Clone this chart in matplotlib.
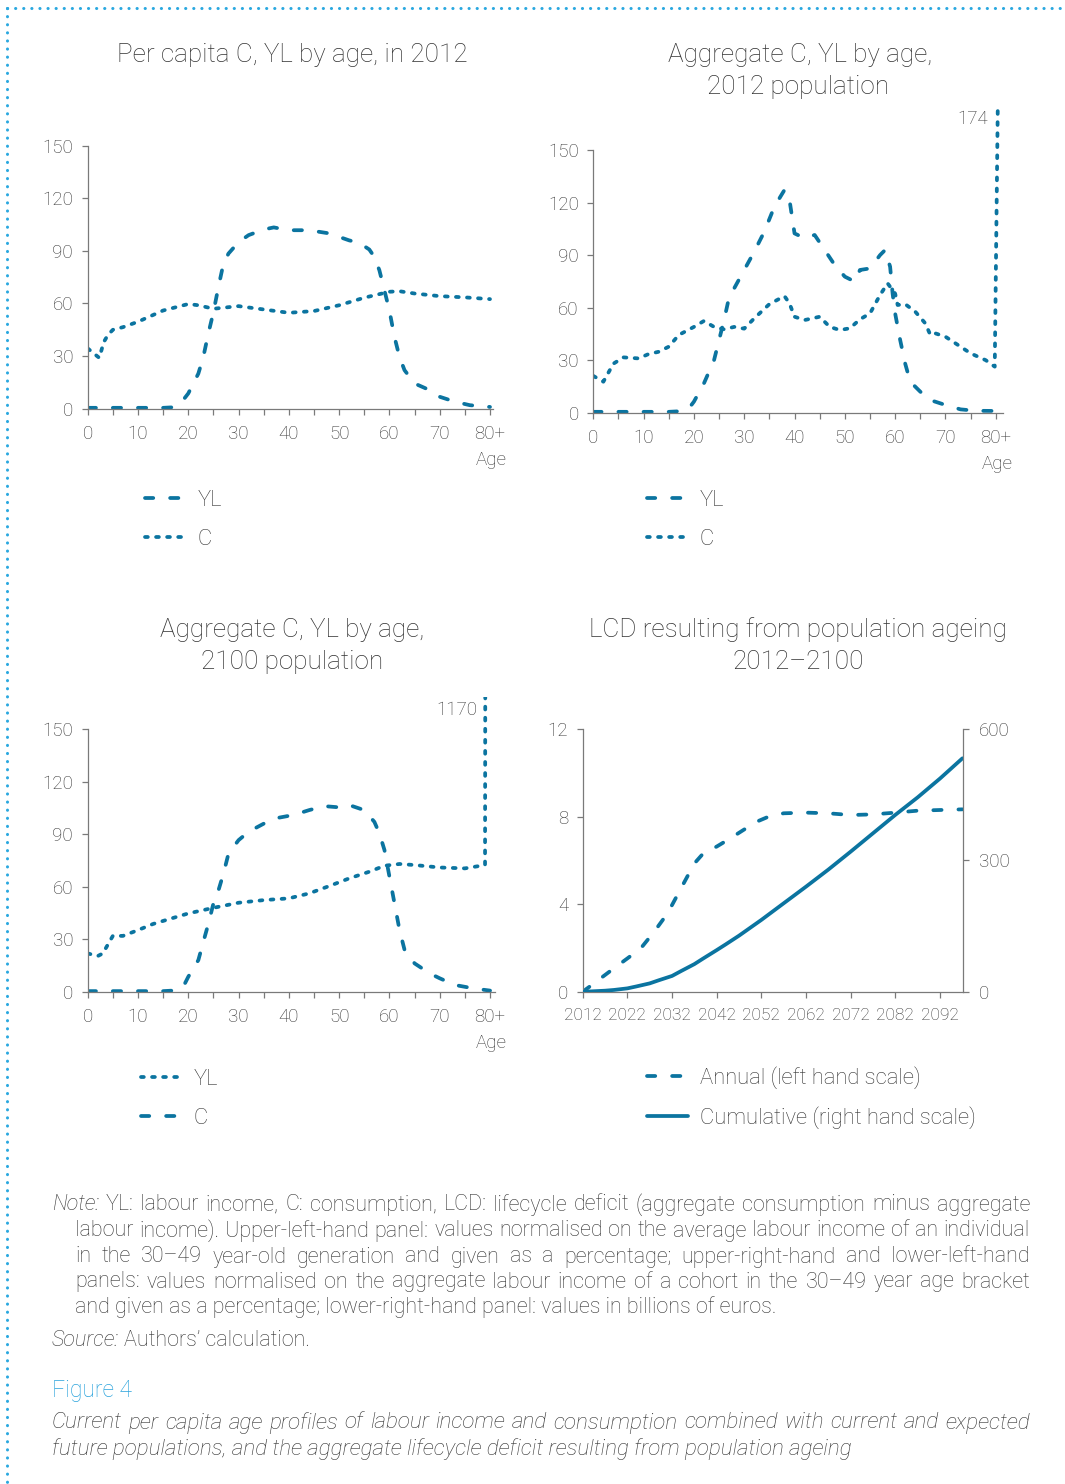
import matplotlib
matplotlib.use('Agg')
import matplotlib.pyplot as plt
from matplotlib.lines import Line2D

W, H = 1065, 1484
BLUE = '#0b74a0'
TXT = '#333333'
AXC = '#7a7a7a'
FRAME = '#2aa8e0'

plt.rcParams['font.family'] = ['Roboto', 'DejaVu Sans']
plt.rcParams['font.weight'] = 'light'

# --- panel 1: per capita 2012 ---
p1_age_yl = [0, 5, 10, 15, 17, 18, 19, 20, 22, 23, 24, 25, 26, 27, 28, 30, 32, 35, 37, 40, 44, 48,
             52, 54, 56, 57, 58, 59, 60, 61, 62, 63, 65, 68, 70, 73, 76, 80]
p1_yl = [0.5, 0.5, 0.5, 0.5, 0.8, 3, 5, 8.7, 20, 29.6, 43, 55, 69.5, 82.8, 88.5, 95, 99, 102.2, 103.4,
         101.8, 101.8, 100, 96, 94.6, 90.8, 86.6, 79, 67.6, 56, 41, 29.6, 22, 14.4, 10.6, 6.8, 4, 2, 1]
p1_age_c = [0, 1, 2.3, 3.2, 4, 5, 7, 10, 15, 20, 22, 25, 30, 35, 40, 45, 50, 55, 60, 62, 65, 70, 75, 80]
p1_c = [34.4, 32, 29, 38, 42, 45, 46.5, 49.6, 56, 59.7, 59, 57, 58.5, 56.6, 54.7, 55.7, 59, 63.3,
        66.7, 67, 65.7, 64.2, 63.5, 62.5]

# --- panel 2: aggregate, 2012 population ---
p2_age_yl = [0, 5, 10, 15, 17, 19, 20, 22, 24, 25, 26, 27, 28, 30, 32, 34, 36, 38, 39, 39.5, 40, 42,
             44, 46, 48, 50, 52, 53, 55, 57, 58, 59, 59.5, 60, 61, 62, 63, 65, 67, 70, 73, 76, 80]
p2_yl = [0.5, 0.5, 0.5, 0.5, 0.8, 2.5, 6.3, 16.8, 30, 41.5, 53, 66, 71, 81.5, 92, 103.4, 117.7, 127.2,
         121.5, 112, 102.4, 99.6, 101.5, 92.9, 84.3, 77.7, 74.8, 81.5, 82.4, 90, 92.9, 83.4, 68, 56.7,
         41.5, 28, 17.7, 12, 7.2, 4.4, 1.9, 1.1, 1]
p2_age_c = [0, 2, 4, 6, 9, 11, 13, 15, 17, 20, 22, 24, 26, 28, 30, 32, 35, 38, 39, 40, 42, 45, 47, 49,
            51, 53, 55, 57, 58.5, 60, 60.5, 62, 64, 66, 67, 68, 70, 72, 75, 78, 79.8, 80.4]
p2_c = [21, 17.7, 28, 31.6, 31, 33.5, 34.8, 37.7, 44.4, 49, 52.4, 49, 47.6, 49, 48, 53.9, 62, 66.6,
        62.4, 54.8, 52.9, 54.8, 49, 47.2, 48.2, 53.3, 56.7, 67.2, 73.9, 68, 61.5, 62, 57.7, 51, 44.4,
        45.3, 43.4, 39.6, 33.9, 30, 26.3, 174]

# --- panel 3: aggregate, 2100 population ---
p3_age_yl = [0, 5, 10, 15, 17, 19, 20, 22, 23, 24, 25, 26, 27, 28, 30, 32, 35, 38, 41, 44, 47, 50,
             52, 55, 57, 58, 59, 60, 61, 62, 63, 65, 68, 70, 73, 77, 80]
p3_yl = [0.5, 0.5, 0.5, 0.5, 0.8, 3, 8.7, 18.2, 28.7, 39, 50.5, 58, 67.6, 79, 86.6, 91.4, 96, 99.4,
         101, 103.7, 106, 105.3, 106.6, 103.7, 97, 90.4, 81, 65.7, 50.5, 35.3, 24, 16.3, 10.6, 7.8,
         4, 1.9, 0.8]
p3_age_c = [0, 2, 3, 5, 7, 10, 13, 16, 20, 25, 30, 35, 40, 44, 48, 52, 56, 59, 62, 65, 70, 75, 79, 79.5]
p3_c = [22, 20.5, 22, 32, 32, 35.3, 38.8, 41.4, 44.8, 48, 50.9, 52.4, 53.4, 56.2, 60.4, 64.8, 68.6,
        72, 73, 72.4, 71, 70.5, 72.4, 1170]

# --- panel 4: LCD ---
p4_years_a = [2012, 2014, 2016, 2019, 2022, 2025, 2028, 2031, 2033, 2035, 2037, 2039, 2042, 2045,
              2048, 2051, 2054, 2057, 2062, 2067, 2072, 2077, 2082, 2087, 2092, 2097]
p4_annual = [0, 0.3, 0.61, 1.07, 1.52, 1.98, 2.74, 3.58, 4.34, 5.1, 5.86, 6.32, 6.63, 7.0, 7.39,
             7.77, 8.03, 8.15, 8.18, 8.15, 8.07, 8.1, 8.18, 8.27, 8.3, 8.33]
p4_years_c = [2012, 2014, 2017, 2019, 2022, 2024, 2027, 2029, 2032, 2034, 2037, 2039, 2042, 2044,
              2047, 2052, 2057, 2062, 2067, 2072, 2077, 2082, 2087, 2092, 2097]
p4_cum = [0, 0.8, 2.3, 4, 7.6, 12, 19, 26, 36, 47, 63, 76, 95, 108, 128, 164, 202, 240, 279, 320,
          362, 404, 444, 487, 533]

age_ticks = list(range(0, 81, 5))
age_labels = ['0', '', '10', '', '20', '', '30', '', '40', '', '50', '', '60', '', '70', '', '80+']
year_ticks = list(range(2012, 2093, 10))

DASH = (0, (2.2, 4.5))
DOT = (0, (0.75, 2.2))
LW = 2.7
TICK_SIZE = 13.5
TITLE_SIZE = 18.8
LEG_SIZE = 15.8
NOTE_SIZE = 15.5


def px_axes(left, right, bottom, top):
    return fig.add_axes([left / W, 1 - bottom / H, (right - left) / W, (bottom - top) / H])


def ftext(x, y, s, **kw):
    kw.setdefault('color', TXT)
    return fig.text(x / W, 1 - y / H, s, **kw)


def style_axes(ax):
    for s in ['top', 'right']:
        ax.spines[s].set_visible(False)
    for s in ['left', 'bottom']:
        ax.spines[s].set_color(AXC)
        ax.spines[s].set_linewidth(0.9)
    ax.tick_params(direction='out', length=4.5, width=0.9, color=AXC, labelcolor=TXT,
                   labelsize=TICK_SIZE, pad=6)
    ax.patch.set_alpha(0)


def age_panel(ax, xmax, ymax):
    style_axes(ax)
    ax.set_xlim(0, xmax)
    ax.set_ylim(0, ymax)
    ax.set_xticks(age_ticks)
    ax.set_xticklabels(age_labels)
    ax.set_yticks(range(0, 151, 30))
    ax.spines['left'].set_bounds(0, 150)
    ax.tick_params(axis='x', pad=7)


def seg(ls):
    return dict(color=BLUE, lw=LW, linestyle=ls, dash_capstyle='round', solid_capstyle='round')


def legend(ax, handles, x, y):
    ax.legend(handles=handles, loc='upper left', bbox_to_anchor=(x / W, 1 - y / H),
              bbox_transform=fig.transFigure, frameon=False, fontsize=LEG_SIZE, labelcolor=TXT,
              handlelength=1.85, handletextpad=0.55, labelspacing=0.8, borderpad=0,
              borderaxespad=0)


fig = plt.figure(figsize=(W / 100, H / 100), dpi=100)

# frame of dotted light blue
fig.add_artist(Line2D([7 / W, 1], [1 - 8 / H, 1 - 8 / H], transform=fig.transFigure, color=FRAME,
                      lw=2.2, linestyle=(0, (0.05, 2.6)), dash_capstyle='round'))
fig.add_artist(Line2D([7 / W, 7 / W], [1 - 8 / H, 0], transform=fig.transFigure, color=FRAME,
                      lw=2.2, linestyle=(0, (0.05, 2.6)), dash_capstyle='round'))

# panel 1
ax1 = px_axes(87.7, 493, 408.7, 145.7)
age_panel(ax1, 80.6, 150)
ax1.plot(p1_age_yl, p1_yl, **seg(DASH))
ax1.plot(p1_age_c, p1_c, **seg(DOT))
ftext(292, 55, 'Per capita C, YL by age, in 2012', fontsize=TITLE_SIZE, ha='center', va='center')
ftext(507, 460, 'Age', fontsize=TICK_SIZE, ha='right', va='center')
legend(ax1, [Line2D([], [], label='YL', **seg(DASH)), Line2D([], [], label='C', **seg(DOT))], 145, 490)

# panel 2
ax2 = px_axes(593.3, 1003.3, 412.7, 104.5)
age_panel(ax2, 81.5, 176)
ax2.plot(p2_age_yl, p2_yl, **seg(DASH))
ax2.plot(p2_age_c, p2_c, **seg(DOT))
ftext(800, 55, 'Aggregate C, YL by age,', fontsize=TITLE_SIZE, ha='center', va='center')
ftext(798, 87, '2012 population', fontsize=TITLE_SIZE, ha='center', va='center')
ftext(988, 119, '174', fontsize=TICK_SIZE, ha='right', va='center')
ftext(1013, 464, 'Age', fontsize=TICK_SIZE, ha='right', va='center')
legend(ax2, [Line2D([], [], label='YL', **seg(DASH)), Line2D([], [], label='C', **seg(DOT))], 647, 490)

# panel 3
ax3 = px_axes(87.7, 495.1, 992, 697.4)
age_panel(ax3, 81, 168)
ax3.plot(p3_age_yl, p3_yl, **seg(DASH))
ax3.plot(p3_age_c, p3_c, **seg(DOT))
ftext(292, 630, 'Aggregate C, YL by age,', fontsize=TITLE_SIZE, ha='center', va='center')
ftext(292, 662, '2100 population', fontsize=TITLE_SIZE, ha='center', va='center')
ftext(477, 710, '1170', fontsize=TICK_SIZE, ha='right', va='center')
ftext(507, 1043, 'Age', fontsize=TICK_SIZE, ha='right', va='center')
legend(ax3, [Line2D([], [], label='YL', **seg(DOT)), Line2D([], [], label='C', **seg(DASH))], 141, 1069)

# panel 4
ax4 = px_axes(582.7, 963.3, 991.7, 729)
style_axes(ax4)
ax4.set_xlim(2012, 2097.2)
ax4.set_ylim(0, 12)
ax4.set_yticks([0, 4, 8, 12])
ax4.set_xticks(year_ticks)
ax4.tick_params(axis='x', labelsize=12.5, pad=7)
ax4b = ax4.twinx()
ax4b.set_ylim(0, 600)
ax4b.set_yticks([0, 300, 600])
for s in ['top', 'left', 'bottom']:
    ax4b.spines[s].set_visible(False)
ax4b.spines['right'].set_color(AXC)
ax4b.spines['right'].set_linewidth(0.9)
ax4b.tick_params(direction='out', length=4.5, width=0.9, color=AXC, labelcolor=TXT,
                 labelsize=TICK_SIZE, pad=7)
ax4.plot(p4_years_a, p4_annual, **seg(DASH))
ax4b.plot(p4_years_c, p4_cum, **seg('-'))
ftext(798, 630, 'LCD resulting from population ageing', fontsize=TITLE_SIZE, ha='center', va='center')
ftext(798, 662, '2012\u20132100', fontsize=TITLE_SIZE, ha='center', va='center')
legend(ax4b, [Line2D([], [], label='Annual (left hand scale)', **seg(DASH)),
              Line2D([], [], label='Cumulative (right hand scale)', **seg('-'))], 647, 1066)

# notes, justified by word spacing
renderer = fig.canvas.get_renderer()


def justify(words, x0, x1, y, size, styles=None, color=TXT):
    texts = []
    for i, w in enumerate(words):
        st = styles[i] if styles else 'normal'
        texts.append(ftext(x0, y, w, fontsize=size, style=st, color=color, va='center', ha='left'))
    widths = [t.get_window_extent(renderer).width for t in texts]
    gap = (x1 - x0 - sum(widths)) / (len(words) - 1)
    x = x0
    for t, wd in zip(texts, widths):
        t.set_x(x / W)
        x += wd + gap


l1 = 'Note: YL: labour income, C: consumption, LCD: lifecycle deficit (aggregate consumption minus aggregate'.split()
justify(l1, 52, 1030, 1205, NOTE_SIZE, styles=['italic'] + ['normal'] * (len(l1) - 1))
justify('labour income). Upper-left-hand panel: values normalised on the average labour income of an individual'.split(),
        75, 1030, 1231, NOTE_SIZE)
justify('in the 30\u201349 year-old generation and given as a percentage; upper-right-hand and lower-left-hand'.split(),
        75, 1030, 1257, NOTE_SIZE)
justify('panels: values normalised on the aggregate labour income of a cohort in the 30\u201349 year age bracket'.split(),
        75, 1030, 1282, NOTE_SIZE)
ftext(75, 1307, 'and given as a percentage; lower-right-hand panel: values in billions of euros.',
      fontsize=NOTE_SIZE, va='center')
src = ftext(52, 1340, 'Source:', fontsize=NOTE_SIZE, style='italic', va='center')
sw = src.get_window_extent(renderer).width
ftext(52 + sw + 5, 1340, 'Authors\u2019 calculation.', fontsize=NOTE_SIZE, va='center')

ftext(52, 1390, 'Figure 4', fontsize=16.5, color='#2aa3dc', va='center')
justify('Current per capita age profiles of labour income and consumption combined with current and expected'.split(),
        52, 1030, 1423, 16.1, styles=['italic'] * 15, color='#333333')
ftext(52, 1449, 'future populations, and the aggregate lifecycle deficit resulting from population ageing',
      fontsize=16.1, style='italic', color='#333333', va='center')

fig.savefig('out.png', dpi=100)
